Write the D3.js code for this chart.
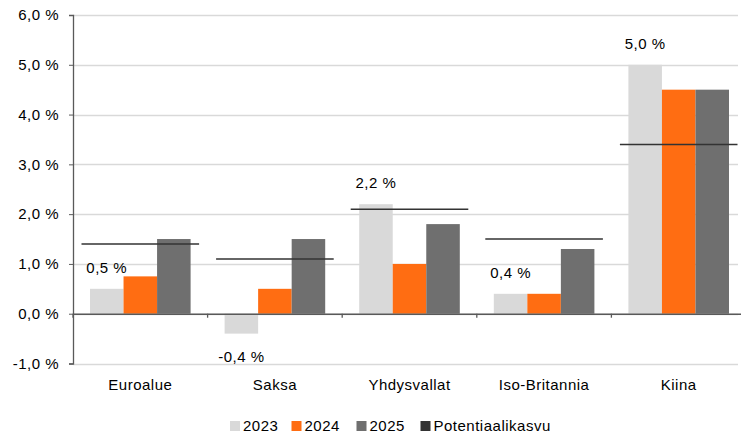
<!DOCTYPE html>
<html>
<head>
<meta charset="utf-8">
<script src="https://cdn.jsdelivr.net/npm/d3@7"></script>
<style>
  body { margin: 0; background: #fff; }
  svg text { font-family: "Liberation Sans", Arial, sans-serif; fill: #000; letter-spacing: 0.5px; }
</style>
</head>
<body>
<svg id="chart" width="741" height="436"></svg>
<script>
// data
const categories = ["Euroalue", "Saksa", "Yhdysvallat", "Iso-Britannia", "Kiina"]
const series = ["2023", "2024", "2025"]
const v2023 = [0.5, -0.4, 2.2, 0.4, 5.0]
const v2024 = [0.75, 0.5, 1.0, 0.4, 4.5]
const v2025 = [1.5, 1.5, 1.8, 1.3, 4.5]
const potential = [1.4, 1.1, 2.1, 1.5, 3.4]
const labels2023 = ["0,5 %", "-0,4 %", "2,2 %", "0,4 %", "5,0 %"]
const yTicks = [-1, 0, 1, 2, 3, 4, 5, 6]
const legendNames = ["2023", "2024", "2025", "Potentiaalikasvu"]

const colors = { "2023": "#d9d9d9", "2024": "#ff6d12", "2025": "#6f6f6f", "Potentiaalikasvu": "#333333" }
const values = { "2023": v2023, "2024": v2024, "2025": v2025 }

const svg = d3.select('#chart')

let x = d3.scaleBand().domain(categories).range([73, 746])
let xs = d3.scaleBand().domain(series).range([17, x.bandwidth() - 17])
let y = d3.scaleLinear().domain([-1, 6]).range([363.5, 15])

// Excel style: comma decimals, plain hyphen minus
const fmt = d => d3.format(".1f")(d).replace(".", ",").replace("\u2212", "-") + " %"

// gridlines
svg.append('g')
  .selectAll('line')
  .data(yTicks)
  .enter().append('line')
  .attr('x1', 73).attr('x2', 738)
  .attr('y1', d => Math.round(y(d)) + 0.5).attr('y2', d => Math.round(y(d)) + 0.5)
  .attr('stroke', '#d9d9d9').attr('stroke-width', 1.5)

// bars
let groups = svg.append('g')
  .selectAll('g')
  .data(categories)
  .enter().append('g')
  .attr('transform', d => `translate(${x(d)},0)`)

series.forEach(s => {
  groups.append('rect')
    .attr('x', xs(s))
    .attr('width', xs.bandwidth())
    .attr('y', (d, i) => y(Math.max(0, values[s][i])))
    .attr('height', (d, i) => Math.abs(y(values[s][i]) - y(0)))
    .attr('fill', colors[s])
})

// potential growth lines
groups.append('line')
  .attr('x1', 8.5)
  .attr('x2', x.bandwidth() - 8.5)
  .attr('y1', (d, i) => y(potential[i]))
  .attr('y2', (d, i) => y(potential[i]))
  .attr('stroke', colors["Potentiaalikasvu"])
  .attr('stroke-width', 1.5)

// 2023 labels
groups.append('text')
  .attr('x', xs("2023") + xs.bandwidth() / 2)
  .attr('y', (d, i) => v2023[i] >= 0 ? y(v2023[i]) - 21 : y(v2023[i]) + 23)
  .attr('dy', '0.35em')
  .attr('text-anchor', 'middle')
  .style('font-size', '15px')
  .text((d, i) => labels2023[i])

// y axis
let yAxis = d3.axisLeft(y).tickValues(yTicks).tickSize(4).tickFormat(fmt)
let ya = svg.append('g').attr('transform', 'translate(73,0)').call(yAxis)
ya.select('.domain').attr('stroke', '#595959').attr('stroke-width', 1.3)
ya.selectAll('.tick line').attr('stroke', '#595959')
ya.selectAll('.tick text').style('font-size', '15px').attr('x', -14)

// x axis along zero
let xAxis = d3.axisBottom(x).tickSize(0).tickFormat(d => d)
let xa = svg.append('g').attr('transform', `translate(0,${y(0)})`).call(xAxis)
xa.select('.domain').attr('stroke', '#595959').attr('stroke-width', 1.5)
xa.selectAll('.tick text').style('font-size', '15px').attr('y', 390 - y(0)).attr('dy', 0)
// category boundary ticks
svg.append('g')
  .selectAll('line')
  .data(categories)
  .enter().append('line')
  .attr('x1', d => x(d)).attr('x2', d => x(d))
  .attr('y1', y(0)).attr('y2', y(0) + 4)
  .attr('stroke', '#595959').attr('stroke-width', 1.3)

// legend
const legendX = [230, 291.5, 356.5, 420.5]
let lg = svg.append('g')
  .selectAll('g')
  .data(legendNames)
  .enter().append('g')
  .attr('transform', (d, i) => `translate(${legendX[i]},421)`)
lg.append('rect').attr('width', 10).attr('height', 10).attr('fill', d => colors[d])
lg.append('text').attr('x', 13).attr('y', 5).attr('dy', '0.35em')
  .style('font-size', '15px').text(d => d)
</script>
</body>
</html>
